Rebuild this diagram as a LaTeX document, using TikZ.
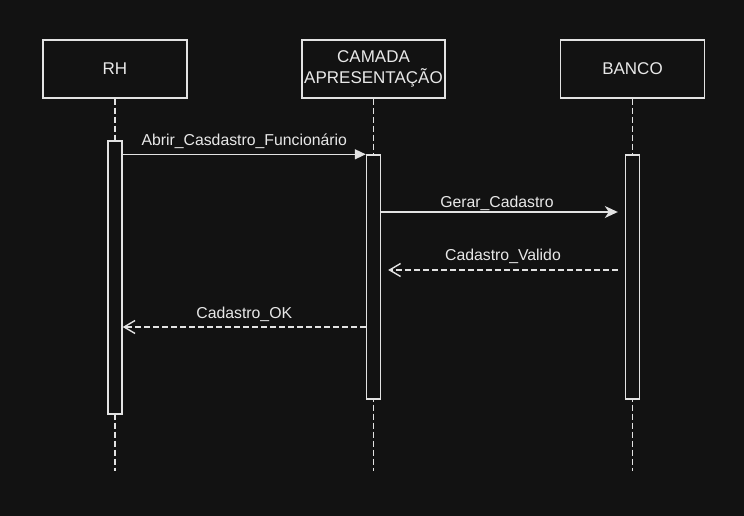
\documentclass[tikz,border=0pt]{standalone}
\usepackage{fontspec}
\setmainfont{Liberation Sans}
\usetikzlibrary{arrows.meta}
\definecolor{bgc}{HTML}{121212}
\definecolor{linec}{HTML}{E2E2E2}
\definecolor{textc}{HTML}{E8E8E8}

\begin{document}
\begin{tikzpicture}[
  x=1pt, y=-1pt,
  every node/.style={font=\fontsize{15.8}{18}\selectfont, text=textc},
  actor/.style={draw=linec, line width=1.4pt, fill=bgc, minimum width=144pt, minimum height=58pt, align=center, inner sep=1pt, font=\fontsize{17}{21.5}\selectfont},
  activ/.style={draw=linec, line width=1.4pt, fill=bgc, minimum width=14pt, inner sep=0pt},
  lifeline/.style={draw=linec, line width=1.4pt, dash pattern=on 6pt off 3pt},
  msg/.style={draw=linec, line width=1.4pt},
  reply/.style={draw=linec, line width=1.4pt, dash pattern=on 6pt off 3pt, -{Straight Barb[length=11pt,width=13pt,line width=1.4pt]}},
  lbl/.style={fill=bgc, inner sep=1pt, text height=11pt, text depth=3pt}
]
  \fill[bgc] (0,0) rectangle (744,516);
  \useasboundingbox (0,0) rectangle (744,516);

  \node[actor] (rh) at (115,69) {RH};
  \node[actor, minimum width=143pt] (cam) at (373.5,69) {CAMADA\\APRESENTAÇÃO};
  \node[actor] (banco) at (632.5,69) {BANCO};

  \coordinate (rhend) at (115,471);
  \coordinate (camend) at (373.5,471);
  \coordinate (bancoend) at (632.5,471);

  \draw[lifeline] (rh.south) -- (rhend);
  \draw[lifeline] (cam.south) -- (camend);
  \draw[lifeline] (banco.south) -- (bancoend);

  \node[activ, minimum height=273pt] (arh) at (115,277.5) {};
  \node[activ, minimum height=244pt] (acam) at (373.5,277) {};
  \node[activ, minimum height=244pt] (abanco) at (632.5,277) {};

  \coordinate (m2) at (0,212);
  \coordinate (m3) at (0,270);
  \coordinate (m4) at (0,327);

  \draw[msg, -{Triangle[length=11pt,width=10pt]}] (arh.east |- acam.north west) -- (acam.north west)
    node[lbl, midway, yshift=13pt] (l1) {Abrir\_Casdastro\_Funcionário};
  \draw[msg, shorten >=7pt, -{Stealth[length=13pt,width=12pt,inset=4pt]}] (acam.east |- m2) -- (abanco.west |- m2)
    node[lbl, pos=0.475, yshift=9pt] (l2) {Gerar\_Cadastro};
  \draw[reply, shorten <=7pt, shorten >=7pt] (abanco.west |- m3) -- (acam.east |- m3)
    node[lbl, midway, yshift=14pt] (l3) {Cadastro\_Valido};
  \draw[reply] (acam.west |- m4) -- (arh.east |- m4)
    node[lbl, midway, yshift=13pt] (l4) {Cadastro\_OK};
\end{tikzpicture}
\end{document}
